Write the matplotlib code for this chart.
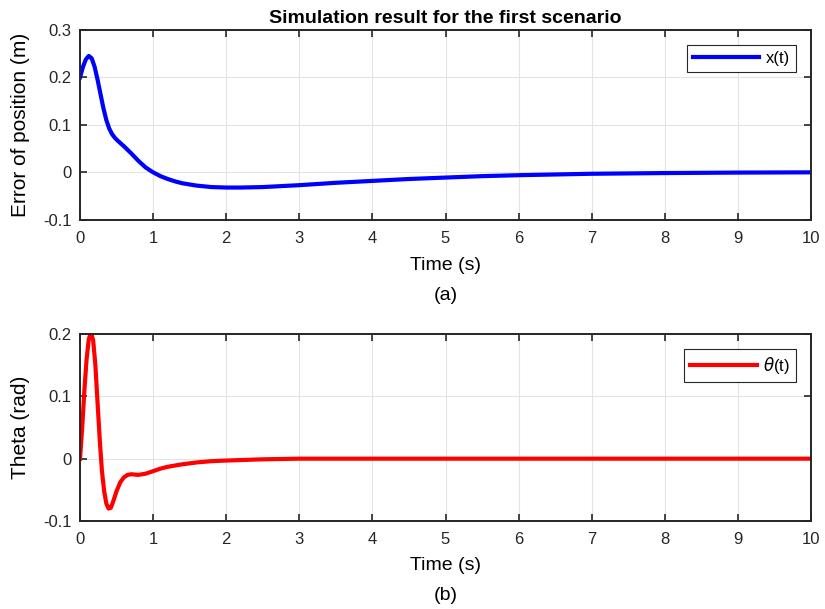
import matplotlib
matplotlib.use('Agg')
import matplotlib.pyplot as plt
import numpy as np

plt.rcParams['font.family'] = ['Liberation Sans', 'DejaVu Sans']
plt.rcParams['mathtext.fontset'] = 'dejavusans'

# first scenario, position error
t_x = [0, 0.04, 0.08, 0.12, 0.16, 0.2, 0.24, 0.28, 0.32, 0.36, 0.4, 0.44, 0.48,
       0.52, 0.6, 0.7, 0.8, 0.9, 1.0, 1.1, 1.2, 1.3, 1.4, 1.6, 1.8, 2.0, 2.2,
       2.5, 3, 3.5, 4, 4.5, 5, 5.5, 6, 7, 8, 9, 10]
x_err = [0.2, 0.222, 0.238, 0.245, 0.24, 0.222, 0.195, 0.165, 0.135, 0.11,
         0.092, 0.08, 0.072, 0.066, 0.055, 0.04, 0.024, 0.01, 0.0, -0.008,
         -0.014, -0.019, -0.023, -0.028, -0.031, -0.032, -0.032, -0.031, -0.027,
         -0.022, -0.018, -0.014, -0.011, -0.008, -0.006, -0.003, -0.0015,
         -0.0005, 0]

# pendulum angle
t_th = [0, 0.03, 0.06, 0.09, 0.12, 0.15, 0.18, 0.21, 0.24, 0.27, 0.3, 0.33,
        0.36, 0.39, 0.42, 0.45, 0.5, 0.55, 0.6, 0.65, 0.7, 0.8, 0.9, 1.0, 1.1,
        1.2, 1.4, 1.6, 1.8, 2.0, 2.5, 3, 10]
theta = [0, 0.05, 0.11, 0.16, 0.192, 0.202, 0.19, 0.15, 0.09, 0.03, -0.02,
         -0.052, -0.072, -0.08, -0.079, -0.07, -0.052, -0.038, -0.03, -0.026,
         -0.025, -0.026, -0.024, -0.02, -0.016, -0.013, -0.009, -0.006, -0.004,
         -0.003, -0.001, 0, 0]

fig = plt.figure(figsize=(8.25, 6.09), dpi=100)
ax1 = fig.add_axes([0.097, 0.639, 0.886, 0.312])
ax2 = fig.add_axes([0.097, 0.1445, 0.886, 0.307])

def style(ax, caption):
    ax.set_xlim(0, 10)
    ax.set_xticks(np.arange(0, 11, 1))
    ax.grid(True, color='#e3e3e3', linewidth=0.8)
    ax.set_axisbelow(True)
    ax.tick_params(direction='in', top=True, right=True, length=5, width=1.2,
                   labelsize=12, colors='#262626')
    ax.tick_params(axis='x', pad=8)
    ax.tick_params(axis='y', pad=6)
    for s in ax.spines.values():
        s.set_linewidth(1.4)
        s.set_color('#262626')
    ax.set_xlabel('Time (s)', fontsize=14)
    ax.xaxis.set_label_coords(0.5, -0.195)
    ax.yaxis.set_label_coords(-0.068, 0.5)
    ax.text(0.5, -0.40, caption, transform=ax.transAxes, ha='center',
            va='center', fontsize=14)
    leg = ax.legend(loc='upper right', fontsize=12, fancybox=False,
                    edgecolor='#262626', framealpha=1, handlelength=4.0,
                    borderaxespad=0.9, handletextpad=0.4, borderpad=0.35)
    leg.get_frame().set_linewidth(0.8)

ax1.plot(t_x, x_err, color='#0000ff', linewidth=3, label='x(t)')
ax1.set_ylim(-0.1, 0.3)
ax1.set_yticks([-0.1, 0, 0.1, 0.2, 0.3])
ax1.set_yticklabels(['-0.1', '0', '0.1', '0.2', '0.3'])
ax1.set_ylabel('Error of position (m)', fontsize=15)
ax1.set_title('Simulation result for the first scenario', fontsize=14,
              fontweight='bold', pad=5)
style(ax1, '(a)')

ax2.plot(t_th, theta, color='#ff0000', linewidth=3, label=r'$\theta$(t)')
ax2.set_ylim(-0.1, 0.2)
ax2.set_yticks([-0.1, 0, 0.1, 0.2])
ax2.set_yticklabels(['-0.1', '0', '0.1', '0.2'])
ax2.set_ylabel('Theta (rad)', fontsize=15)
style(ax2, '(b)')

fig.savefig('out.png', dpi=100)
